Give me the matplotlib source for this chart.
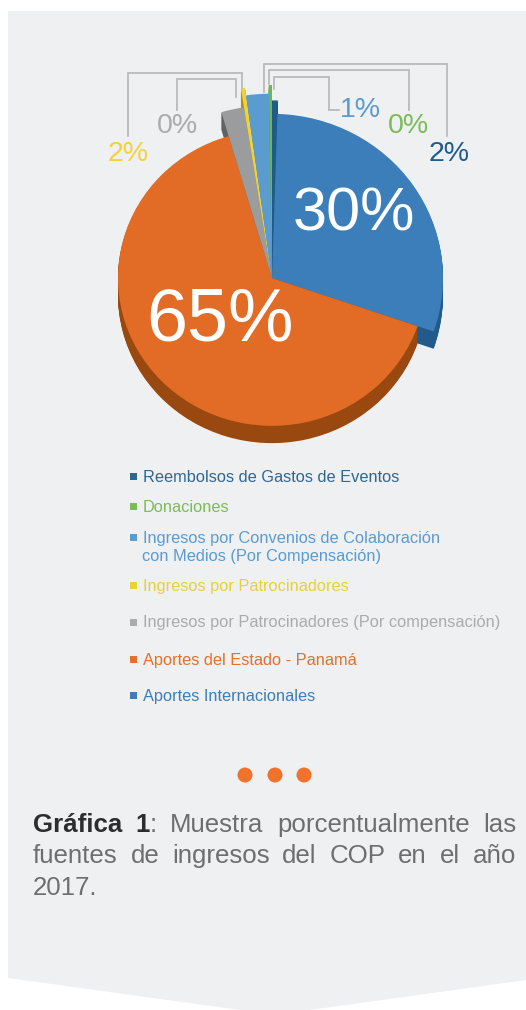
import matplotlib
matplotlib.use("Agg")
import matplotlib.pyplot as plt
from matplotlib.patches import Polygon, Circle, Rectangle

# slices clockwise from the top, as measured on the picture
slices = ["Reembolsos", "Internacionales", "Estado", "Compensacion", "Patrocinadores", "Convenios", "Donaciones"]
shares = [0.5, 29.7, 65.0, 2.05, 0.33, 1.9, 0.25]
radii = [185, 171, 154, 180, 200, 192, 201]
top_colors = ["#1f5a8c", "#3b7eba", "#e26b26", "#9a9c9d", "#f2d23c", "#5a9bd0", "#6fb64f"]
side_colors = ["#174a75", "#235a8c", "#99490f", "#5f6365", "#a88f1f", "#3f78a8", "#4f8c35"]

big_labels = ["30%", "65%"]
small_labels = ["2%", "0%", "1%", "0%", "2%"]
small_colors = ["#f2d23c", "#a9abae", "#5a9bd0", "#7bbb58", "#1f5a8c"]

legend_labels = [
    "Reembolsos de Gastos de Eventos",
    "Donaciones",
    "Ingresos por Convenios de Colaboración",
    "Ingresos por Patrocinadores",
    "Ingresos por Patrocinadores (Por compensación)",
    "Aportes del Estado - Panamá",
    "Aportes Internacionales",
]
legend_colors = ["#2f6690", "#7bbb58", "#5a9bd0", "#e8cf3e", "#a9abae", "#e2702f", "#3b7eba"]
legend_extra = "con Medios (Por Compensación)"

caption = [
    [("Gráfica", True), ("1", True), (":", False), ("Muestra", False), ("porcentualmente", False), ("las", False)],
    [("fuentes", False), ("de", False), ("ingresos", False), ("del", False), ("COP", False), ("en", False), ("el", False), ("año", False)],
]
caption_end = "2017."

W, H = 526, 1010
FONT = "Liberation Sans"
fig = plt.figure(figsize=(W / 100, H / 100), dpi=100, facecolor="white")

# pie lives in its own axes, y squeezed a bit because of the 3d tilt
cx, cy, squeeze = 272, 278, 0.96
pie_ax = fig.add_axes([0, 0, 1, 1], zorder=1)
pie_ax.patch.set_visible(False)


def draw_pie(offset, colors):
    wedges, _ = pie_ax.pie(shares, colors=colors, startangle=90, counterclock=False, center=(0, offset))
    for w, r in zip(wedges, radii):
        w.set_radius(r)


for offset in range(-18, 0):
    draw_pie(offset, side_colors)
draw_pie(0, top_colors)
pie_ax.set_aspect("auto")
pie_ax.set_xlim(-cx, W - cx)
pie_ax.set_ylim((cy - H) / squeeze, cy / squeeze)
pie_ax.axis("off")

# everything else in plain pixel coordinates
ax = fig.add_axes([0, 0, 1, 1], zorder=2)
ax.patch.set_visible(False)
ax.set_xlim(0, W)
ax.set_ylim(H, 0)
ax.axis("off")

panel = Polygon([(8, 11), (526, 11), (526, 980), (310, 1010), (240, 1010), (8, 978)],
                closed=True, fc="#eff0f2", ec="none", transform=ax.transData, zorder=-1)
fig.add_artist(panel)

# leader lines
leaders = [
    ([128, 128, 242, 242], [136, 73, 73, 88]),
    ([177, 177, 236, 236], [110, 79, 79, 97]),
    ([274, 274, 329, 329, 339], [89, 77, 77, 110, 110]),
    ([269, 269, 409, 409], [84, 70, 70, 110]),
    ([264, 264, 447, 447], [92, 64, 64, 136]),
]
for xs, ys in leaders:
    ax.plot(xs, ys, color="#b4b6b8", lw=1.2, solid_joinstyle="miter")

small_pos = [(128, 154), (177, 126), (360, 110), (408, 126), (449, 154)]
for txt, col, (x, y) in zip(small_labels, small_colors, small_pos):
    ax.text(x, y, txt, color=col, fontsize=20.5, family=FONT, ha="center", va="center")

ax.text(354, 215, big_labels[0], color="white", fontsize=44, family=FONT, ha="center", va="center")
ax.text(220, 321, big_labels[1], color="white", fontsize=53, family=FONT, ha="center", va="center")

# legend
legend_y = [477, 507, 538, 586, 623, 660, 696]
for lab, col, y in zip(legend_labels, legend_colors, legend_y):
    ax.add_patch(Rectangle((129.5, y - 4), 7, 7, fc=col, ec="none"))
    ax.text(143, y, lab, color=col, fontsize=11.8, family=FONT, va="center")
ax.text(142, 557, legend_extra, color=legend_colors[2], fontsize=11.8, family=FONT, va="center")

for x in (245, 275, 304):
    ax.add_patch(Circle((x, 775), 7.5, fc="#f0722b", ec="none"))

# caption, justified by hand like in the original
fig.canvas.draw()
renderer = fig.canvas.get_renderer()
left, right = 33, 516
CAP_SIZE = 18.6


def word_width(t):
    return t.get_window_extent(renderer).width


for words, base in zip(caption, (832, 863)):
    items = []
    for w, bold in words:
        items.append(ax.text(0, base, w, fontsize=CAP_SIZE, family=FONT, color="#2d2d2d" if bold else "#6d6e71",
                             fontweight="bold" if bold else "normal", va="baseline"))
    # the colon hangs on the "1" with no gap
    widths = [word_width(t) for t in items]
    n_gaps = len(items) - 1 - (1 if words[2][0] == ":" else 0)
    gap = (right - left - sum(widths)) / n_gaps
    x = left
    for i, (t, wd) in enumerate(zip(items, widths)):
        t.set_x(x)
        x += wd
        if not (i + 1 < len(items) and items[i + 1].get_text() == ":"):
            x += gap
ax.text(left, 895, caption_end, fontsize=CAP_SIZE, family=FONT, color="#6d6e71", va="baseline")

fig.savefig("out.png", dpi=100)
